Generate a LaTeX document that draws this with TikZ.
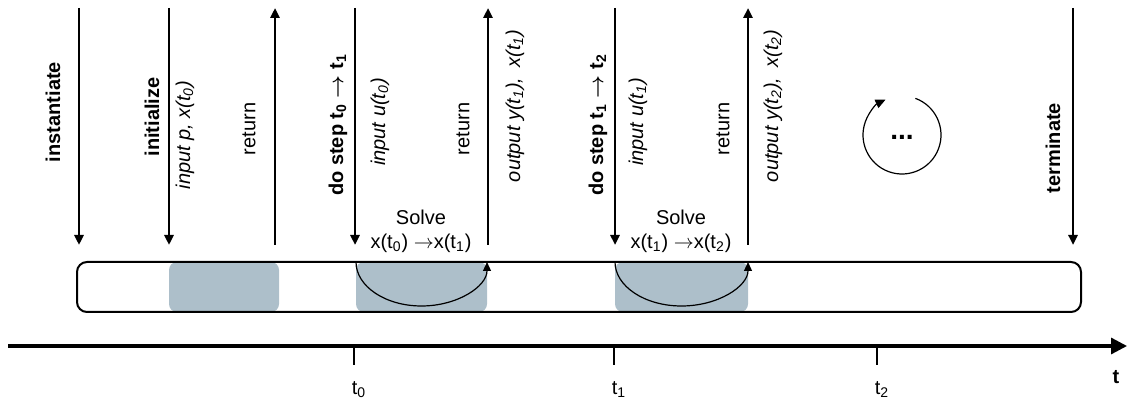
\documentclass[tikz,border=0pt]{standalone}
\usepackage{fontspec}
\setmainfont{Liberation Sans}
\usepackage{tikz}
\usetikzlibrary{arrows.meta, positioning, calc}
\definecolor{boxgray}{HTML}{ADBFCA}
\definecolor{inkblack}{HTML}{000000}
\newcommand{\goesto}{\ensuremath{\rightarrow}}

\begin{document}
\begin{tikzpicture}[x=0.5pt, y=0.5pt,
    font=\fontsize{10}{12}\selectfont,
    callarrow/.style={inkblack, line width=1.4pt,
                      -{Triangle[length=5pt,width=4.5pt]}},
    vlbl/.style={rotate=90, inner sep=0pt},
    boldlbl/.style={vlbl, font=\fontsize{10}{12}\selectfont\bfseries\boldmath},
    itlbl/.style={vlbl, font=\fontsize{10}{12}\selectfont\itshape},
    solvebox/.style={fill=boxgray, rounded corners=4pt}]
  % picture is 1127 x 401 units, y upwards
  \useasboundingbox (0,0) rectangle (1127,401);

  % ends of the call arrows
  \foreach \nm/\x in {inst/79, init/169, ret0/275, step0/355,
                      out0/488, step1/615, out1/748, term/1073}{
    \coordinate (\nm-top) at (\x,393);
    \coordinate (\nm-bot) at (\x,156);
  }

  % solver boxes inside the simulation strip
  \fill[solvebox] (169,89) rectangle (279,139);
  \fill[solvebox] (356,89) rectangle (487,139);
  \fill[solvebox] (615,89) rectangle (748,139);
  \draw[line width=1pt, rounded corners=5pt] (77,89) rectangle (1081,139);

  % calls into the model and returns
  \foreach \nm in {inst, init, step0, step1, term}
    \draw[callarrow] (\nm-top) -- (\nm-bot);
  \foreach \nm in {ret0, out0, out1}
    \draw[callarrow] (\nm-bot) -- (\nm-top);

  % labels of the calls
  \node[boldlbl] (instlbl) at (53,289) {instantiate};
  \node[boldlbl] (initlbl) at (152,284) {initialize};
  \node[itlbl] (initin) at (185,266) {input p, x(t\textsubscript{0})};
  \node[vlbl] (ret0lbl) at (249,272) {return};
  \node[boldlbl] (step0lbl) at (338,276)
    {do step t\textsubscript{0} \goesto{} t\textsubscript{1}};
  \node[itlbl] (step0in) at (380,279) {input u(t\textsubscript{0})};
  \node[vlbl] (ret1lbl) at (463,272) {return};
  \node[itlbl] (out0lbl) at (515,295)
    {output y(t\textsubscript{1}),\enspace x(t\textsubscript{1})};
  \node[boldlbl] (step1lbl) at (598,276)
    {do step t\textsubscript{1} \goesto{} t\textsubscript{2}};
  \node[itlbl] (step1in) at (638,279) {input u(t\textsubscript{1})};
  \node[vlbl] (ret2lbl) at (723,272) {return};
  \node[itlbl] (out1lbl) at (773,295)
    {output y(t\textsubscript{2}),\enspace x(t\textsubscript{2})};
  \node[boldlbl] (termlbl) at (1053,253) {terminate};

  % solver steps
  \node (solve0) at (421,184) {Solve};
  \node (solve0x) at (421,158)
    {x(t\textsubscript{0}) \goesto{}x(t\textsubscript{1})};
  \node (solve1) at (681,184) {Solve};
  \node (solve1x) at (681,158)
    {x(t\textsubscript{1}) \goesto{}x(t\textsubscript{2})};
  \coordinate (arc0) at (356,139);
  \coordinate (arc1) at (615,139);
  \foreach \c/\rx in {arc0/65.5, arc1/66.5}
    \draw[line width=0.6pt, -{Triangle[length=4.5pt,width=4pt]}] (\c)
      arc[start angle=180, end angle=360, x radius=\rx, y radius=44];

  % repeat loop
  \node[font=\fontsize{14}{16}\selectfont\bfseries] (dots) at (902,264) {...};
  \draw[line width=0.6pt, -{Triangle[length=5pt,width=4.5pt]}]
    ($(902,266)+(70:39)$) arc[start angle=70, end angle=-245, radius=39];

  % Axis
  \coordinate (axstart) at (8,55);
  \coordinate (axend) at (1127,55);
  \draw[line width=1.6pt, -{Triangle[length=8pt,width=8pt]}] (axstart) -- (axend);
  \foreach \x/\i in {354/0, 614/1, 877/2}{
    \coordinate (tick\i) at (\x,55);
    \draw[line width=1.3pt] (tick\i) -- ++(0,-19);
    \node (tlbl\i) at (\x+5,11) {t\textsubscript{\i}};
  }
  \node[font=\fontsize{10}{12}\selectfont\bfseries] (tlbl) at (1116,24) {t};
\end{tikzpicture}
\end{document}
